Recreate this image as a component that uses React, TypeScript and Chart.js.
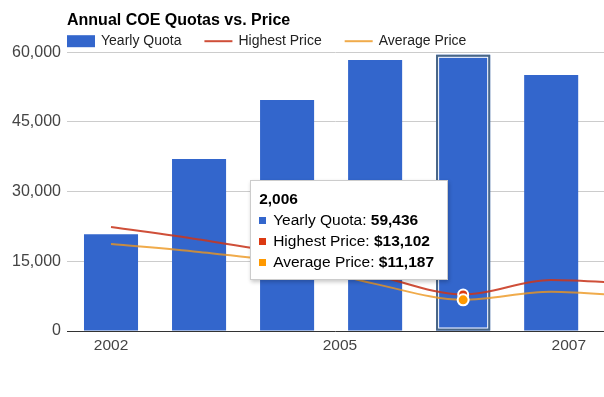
import React, { useEffect, useRef } from 'react';
import { Chart, registerables } from 'chart.js';

Chart.register(...registerables);

// ---- data ----
const chartTitle = 'Annual COE Quotas vs. Price';
const seriesNames = ['Yearly Quota', 'Highest Price', 'Average Price'];
const years = [2002, 2003, 2004, 2005, 2006, 2007];
const quotaValues = [20800, 37000, 49700, 58300, 59436, 55100];
const priceYears = [2002, 2003, 2004, 2005, 2006, 2007, 2008];
const highestPrice = [37300, 32800, 27500, 20000, 13102, 18300, 16800];
const averagePrice = [31200, 28300, 24500, 16900, 11187, 14100, 12200];
const xTickValues = [2002, 2004.6, 2007.2];
const xTickLabels = ['2002', '2005', '2007'];
const highlightYear = 2006;

// ---- styles ----
const FONT = '"Liberation Sans", Arial, Helvetica, sans-serif';
const BLUE = '#3366cc';
const RED = '#dc3912';
const ORANGE = '#ff9900';
const RED_LINE = 'rgba(200,55,30,0.88)';
const ORANGE_LINE = 'rgba(236,150,30,0.8)';
const valuePrefix = ['', '$', '$'];
const swatchColors = [BLUE, RED, ORANGE];

const fmt = (v: number) => Math.round(v).toLocaleString('en-US');

const headerLegend = {
  id: 'headerLegend',
  afterLayout(chart: any) {
    if (chart.titleBlock) chart.titleBlock.left = chart.chartArea.left;
  },
  afterDraw(chart: any) {
    const { ctx, chartArea } = chart;
    const y = chartArea.top - 11;
    let x = chartArea.left;
    ctx.save();
    ctx.font = `14px ${FONT}`;
    ctx.textBaseline = 'middle';
    ctx.textAlign = 'left';
    chart.data.datasets.forEach((ds: any) => {
      if (ds.type === 'bar') {
        ctx.fillStyle = ds.backgroundColor;
        ctx.fillRect(x, y - 6, 28, 12);
      } else {
        ctx.strokeStyle = ds.borderColor;
        ctx.lineWidth = 2;
        ctx.beginPath();
        ctx.moveTo(x, y);
        ctx.lineTo(x + 28, y);
        ctx.stroke();
      }
      ctx.fillStyle = '#222';
      ctx.fillText(ds.label, x + 34, y);
      x += 34 + ctx.measureText(ds.label).width + 23;
    });
    ctx.restore();
  },
};

const focusRing = {
  id: 'focusRing',
  afterDatasetDraw(chart: any, args: any) {
    if (args.index !== 0) return;
    const idx = years.indexOf(highlightYear);
    const bar = args.meta.data[idx];
    if (!bar) return;
    const { x, y, base, width } = bar.getProps(['x', 'y', 'base', 'width'], true);
    const left = x - width / 2;
    const { ctx } = chart;
    ctx.save();
    ctx.strokeStyle = '#4a6784';
    ctx.lineWidth = 2;
    ctx.strokeRect(left + 1, y + 1, width - 2, base - y - 2);
    ctx.strokeStyle = '#ffffff';
    ctx.lineWidth = 1;
    ctx.strokeRect(left + 2.5, y + 2.5, width - 5, base - y - 5);
    ctx.restore();
  },
};

export default function App() {
  const canvasRef = useRef<HTMLCanvasElement | null>(null);
  const wrapRef = useRef<HTMLDivElement | null>(null);

  useEffect(() => {
    document.body.style.margin = '0';
    document.body.style.overflow = 'hidden';
    const canvas = canvasRef.current;
    const wrap = wrapRef.current;
    if (!canvas || !wrap) return;

    const tip = document.createElement('div');
    Object.assign(tip.style, {
      position: 'absolute',
      pointerEvents: 'none',
      background: '#ffffff',
      border: '1px solid #cccccc',
      boxShadow: '1px 2px 4px rgba(0,0,0,0.22)',
      padding: '7px 13px 7px 8px',
      font: `15.5px ${FONT}`,
      lineHeight: '21px',
      color: '#000',
      whiteSpace: 'nowrap',
      display: 'none',
    } as any);
    wrap.appendChild(tip);

    const external = ({ chart, tooltip }: any) => {
      const pts = tooltip.dataPoints || [];
      if (!pts.length) {
        tip.style.display = 'none';
        return;
      }
      tip.innerHTML = '';
      const title = document.createElement('div');
      title.style.fontWeight = 'bold';
      title.textContent = (tooltip.title || [])[0] || '';
      tip.appendChild(title);
      pts.forEach((p: any) => {
        const row = document.createElement('div');
        const sq = document.createElement('span');
        Object.assign(sq.style, {
          display: 'inline-block',
          width: '7px',
          height: '7px',
          background: swatchColors[p.datasetIndex],
          marginRight: '7px',
          verticalAlign: '1px',
        });
        row.appendChild(sq);
        row.appendChild(document.createTextNode(`${p.dataset.label}: `));
        const b = document.createElement('b');
        b.textContent = valuePrefix[p.datasetIndex] + fmt(p.parsed.y);
        row.appendChild(b);
        tip.appendChild(row);
      });
      tip.style.display = 'block';
      tip.style.top = `${chart.chartArea.top + 128}px`;
      tip.style.left = `${tooltip.caretX - 15 - tip.offsetWidth}px`;
    };

    Chart.defaults.font.family = FONT;

    const hiIdx = years.indexOf(highlightYear);
    const hiPriceIdx = priceYears.indexOf(highlightYear);

    const chart = new Chart(canvas, {
      type: 'bar',
      data: {
        datasets: [
          {
            type: 'bar',
            label: seriesNames[0],
            data: years.map((x, i) => ({ x, y: quotaValues[i] })),
            backgroundColor: BLUE,
            borderWidth: 0,
            yAxisID: 'y',
            categoryPercentage: 1,
            barPercentage: 0.614,
            order: 2,
          },
          {
            type: 'line',
            label: seriesNames[1],
            data: priceYears.map((x, i) => ({ x, y: highestPrice[i] })),
            borderColor: RED_LINE,
            borderWidth: 2,
            yAxisID: 'y2',
            cubicInterpolationMode: 'monotone',
            pointRadius: priceYears.map((y) => (y === highlightYear ? 5 : 0)),
            pointBackgroundColor: RED,
            pointBorderColor: '#ffffff',
            pointBorderWidth: 2,
            fill: false,
            order: 1,
          },
          {
            type: 'line',
            label: seriesNames[2],
            data: priceYears.map((x, i) => ({ x, y: averagePrice[i] })),
            borderColor: ORANGE_LINE,
            borderWidth: 2,
            yAxisID: 'y2',
            cubicInterpolationMode: 'monotone',
            pointRadius: priceYears.map((y) => (y === highlightYear ? 5.5 : 0)),
            pointBackgroundColor: ORANGE,
            pointBorderColor: '#ffffff',
            pointBorderWidth: 2,
            fill: false,
            order: 0,
          },
        ],
      } as any,
      options: {
        responsive: false,
        maintainAspectRatio: false,
        animation: false,
        locale: 'en-US',
        events: [],
        layout: { padding: 0 },
        plugins: {
          legend: { display: false },
          title: {
            display: true,
            text: chartTitle,
            align: 'start',
            color: '#000',
            font: { size: 16, weight: 'bold', family: FONT },
            padding: { top: 11, bottom: 22 },
          },
          tooltip: {
            enabled: false,
            external,
          },
        },
        scales: {
          x: {
            type: 'linear',
            min: 2001.5,
            max: 2007.6,
            offset: false,
            grid: { display: false, drawTicks: false },
            border: { display: false },
            afterBuildTicks: (scale: any) => {
              scale.ticks = xTickValues.map((value) => ({ value }));
            },
            afterFit: (scale: any) => {
              scale.height = 66;
            },
            ticks: {
              padding: 5,
              color: '#444',
              font: { size: 15.5, family: FONT },
              maxRotation: 0,
              autoSkip: false,
              callback: (_v: any, i: number) => xTickLabels[i],
            },
          },
          y: {
            type: 'linear',
            position: 'left',
            min: 0,
            max: 60000,
            afterFit: (scale: any) => {
              scale.width = 67;
            },
            ticks: {
              stepSize: 15000,
              padding: 6,
              color: '#444',
              font: { size: 16, family: FONT },
              callback: (v: any) => fmt(Number(v)),
            },
            grid: {
              drawTicks: false,
              color: (ctx: any) => (ctx.tick && ctx.tick.value === 0 ? '#333333' : '#cccccc'),
              lineWidth: 1,
            },
            border: { display: false },
          },
          y2: {
            type: 'linear',
            display: false,
            min: 0,
            max: 100000,
            grid: { display: false },
          },
        },
      } as any,
      plugins: [headerLegend, focusRing],
    });

    const bar: any = chart.getDatasetMeta(0).data[hiIdx];
    (chart.tooltip as any).setActiveElements(
      [
        { datasetIndex: 0, index: hiIdx },
        { datasetIndex: 1, index: hiPriceIdx },
        { datasetIndex: 2, index: hiPriceIdx },
      ],
      { x: bar.x, y: bar.y }
    );

    return () => {
      chart.destroy();
      tip.remove();
    };
  }, []);

  return (
    <div ref={wrapRef} style={{ position: 'relative', width: 604, height: 397, overflow: 'hidden', background: '#fff' }}>
      <canvas ref={canvasRef} width={604} height={397} style={{ display: 'block' }} />
    </div>
  );
}
